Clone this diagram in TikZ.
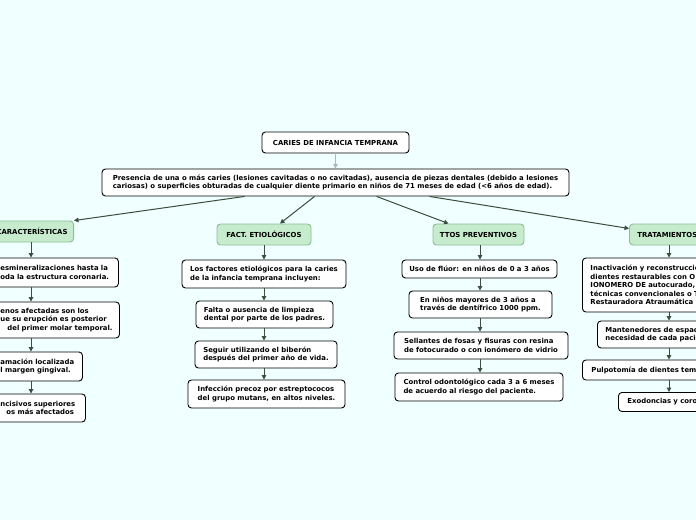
\documentclass[tikz,border=0pt]{standalone}
\usepackage{fontspec}
\setmainfont{DejaVu Sans}
\usetikzlibrary{arrows.meta}
\definecolor{bgc}{RGB}{240,255,255}
\definecolor{catfill}{RGB}{198,235,205}
\definecolor{catdraw}{RGB}{140,190,150}
\definecolor{arrc}{RGB}{58,78,62}
\definecolor{grayarr}{RGB}{175,183,183}
\begin{document}
\begin{tikzpicture}[x=1pt,y=-1pt,
  txt/.style={font=\fontsize{6.9}{8.5}\selectfont\bfseries},
  box/.style={draw=black, line width=0.9pt, fill=white, rounded corners=3.5pt, align=left, inner xsep=6pt, inner ysep=3pt, txt},
  sidebox/.style={box, anchor=west},
  cat/.style={draw=catdraw, line width=0.9pt, fill=catfill, rounded corners=3.5pt, inner ysep=2pt, minimum height=21, txt},
  arr/.style={draw=arrc, line width=1pt, -{Triangle[length=4.5pt,width=4.5pt]}},
  grayarrow/.style={draw=grayarr, line width=1pt, -{Triangle[length=4.5pt,width=4.5pt]}},
]
\useasboundingbox (0,0) rectangle (696,520);
\clip (0,0) rectangle (696,520);
\fill[bgc] (0,0) rectangle (696,520);

% root and definition
\node[box, align=center, minimum width=147, minimum height=21] (root) at (335.5,142.5) {CARIES DE INFANCIA TEMPRANA};
\node[box, minimum width=467, minimum height=27] (def) at (335.5,182.5) {Presencia de una o más caries (lesiones cavitadas o no cavitadas), ausencia de piezas dentales (debido a lesiones\\cariosas) o superficies obturadas de cualquier diente primario en niños de 71 meses de edad (<6 años de edad).};
\draw[grayarrow] (root.south) -- (def.north);

% categories
\node[cat, anchor=east, inner xsep=6pt] (car) at (74,231.5) {CARACTERÍSTICAS};
\node[cat, minimum width=94] (fact) at (264,234.5) {FACT. ETIOLÓGICOS};
\node[cat, minimum width=91] (ttos) at (478.5,234.5) {TTOS PREVENTIVOS};
\node[cat, anchor=west, inner xsep=8pt, text width=80, align=left] (trat) at (629,234.5) {TRATAMIENTOS};

\draw[arr] ([xshift=143pt]def.south west) -- (car.north east);
\draw[arr] ([xshift=213pt]def.south west) -- ([xshift=16pt]fact.north);
\draw[arr] ([xshift=275pt]def.south west) -- ([xshift=-30pt]ttos.north);
\draw[arr] ([xshift=328pt]def.south west) -- ([yshift=6pt]trat.west);

% column coordinates
\coordinate (c1) at (31,0);
\coordinate (c2) at (264,0);
\coordinate (c3) at (480,0);
\coordinate (c4) at (669,0);

% column 1 (cut at the left edge)
\node[sidebox, inner xsep=10pt, text width=108, minimum height=29] (b1) at (-10,272.5) {\mbox{esmineralizaciones hasta la}\\\mbox{oda la estructura coronaria.}};
\node[sidebox, inner xsep=10pt, text width=109, minimum height=36] (b2) at (-10,320) {\mbox{enos afectadas son los}\\\mbox{ue su erupción es posterior}\\\mbox{\hspace*{7pt}del primer molar temporal.}};
\node[sidebox, inner xsep=10pt, text width=72, minimum height=29] (b3) at (-10,366.5) {\mbox{amación localizada}\\\mbox{l margen gingival.}};
\node[sidebox, inner xsep=10pt, text width=75, minimum height=28] (b4) at (-10,408) {\mbox{ncisivos superiores}\\\mbox{\hspace*{6pt}os más afectados}};
\draw[arr] (c1 |- car.south) -- (c1 |- b1.north);
\draw[arr] (c1 |- b1.south) -- (c1 |- b2.north);
\draw[arr] (c1 |- b2.south) -- (c1 |- b3.north);
\draw[arr] (c1 |- b3.south) -- (c1 |- b4.north);

% column 2
\node[box, minimum width=164, minimum height=28] (f1) at (264,274) {Los factores etiológicos para la caries\\de la infancia temprana incluyen:};
\node[box, minimum width=137, minimum height=27] (f2) at (264.5,314.5) {Falta o ausencia de limpieza\\dental por parte de los padres.};
\node[box, minimum width=142, minimum height=27] (f3) at (266,354.5) {Seguir utilizando el biberón\\después del primer año de vida.};
\node[box, minimum width=157, minimum height=28] (f4) at (266.5,394) {Infección precoz por estreptococos\\del grupo mutans, en altos niveles.};
\draw[arr] (c2 |- fact.south) -- (c2 |- f1.north);
\draw[arr] (c2 |- f1.south) -- (c2 |- f2.north);
\draw[arr] (c2 |- f2.south) -- (c2 |- f3.north);
\draw[arr] (c2 |- f3.south) -- (c2 |- f4.north);

% column 3
\node[box, minimum width=155, minimum height=18] (t1) at (479.5,269) {Uso de flúor: en niños de 0 a 3 años};
\node[box, minimum width=143, minimum height=27] (t2) at (480.5,304.5) {En niños mayores de 3 años a\\través de dentífrico 1000 ppm.};
\node[box, minimum width=174, minimum height=27] (t3) at (481,345.5) {Sellantes de fosas y fisuras con resina\\de fotocurado o con ionómero de vidrio};
\node[box, minimum width=168, minimum height=28] (t4) at (479,387) {Control odontológico cada 3 a 6 meses\\de acuerdo al riesgo del paciente.};
\draw[arr] (c3 |- ttos.south) -- (c3 |- t1.north);
\draw[arr] (c3 |- t1.south) -- (c3 |- t2.north);
\draw[arr] (c3 |- t2.south) -- (c3 |- t3.north);
\draw[arr] (c3 |- t3.south) -- (c3 |- t4.north);

% column 4 (cut at the right edge)
\node[sidebox, inner xsep=8pt, text width=150, minimum height=54] (r1) at (582,285) {Inactivación y reconstrucción\\dientes restaurables con O\\IONOMERO DE autocurado,\\técnicas convencionales o T\\Restauradora Atraumática};
\node[sidebox, inner xsep=8pt, text width=130, minimum height=27] (r2) at (597,334.5) {Mantenedores de espacio\\necesidad de cada paciente};
\node[sidebox, inner xsep=9pt, text width=140, minimum height=20] (r3) at (582,370) {Pulpotomía de dientes temporales};
\node[sidebox, inner xsep=9pt, text width=100, minimum height=19] (r4) at (618,402) {Exodoncias y coronas};
\draw[arr] (c4 |- trat.south) -- (c4 |- r1.north);
\draw[arr] (c4 |- r1.south) -- (c4 |- r2.north);
\draw[arr] (c4 |- r2.south) -- (c4 |- r3.north);
\draw[arr] (c4 |- r3.south) -- (c4 |- r4.north);
\end{tikzpicture}
\end{document}
